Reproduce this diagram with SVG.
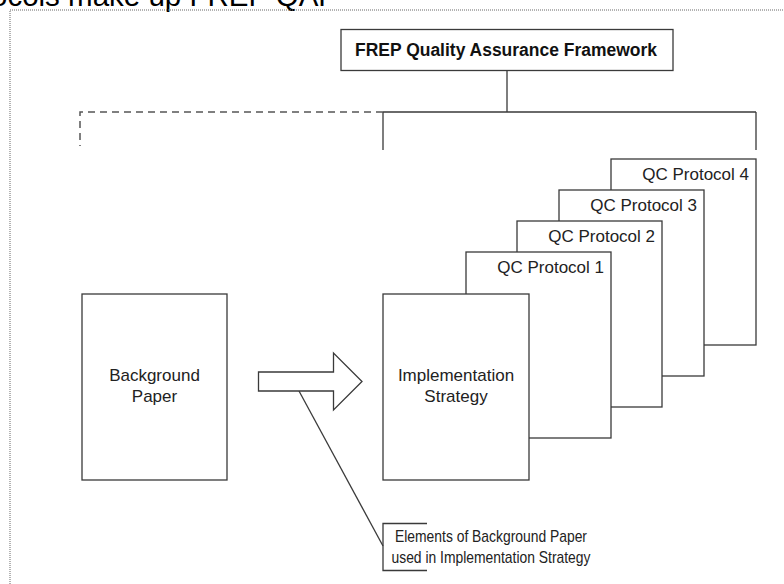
<svg xmlns="http://www.w3.org/2000/svg" width="784" height="584" viewBox="0 0 784 584">
  <style>
    .box { fill: #ffffff; stroke: #3a3a3a; stroke-width: 1.3; }
    .ln { fill: none; stroke: #3a3a3a; stroke-width: 1.3; }
    .dash { fill: none; stroke: #555555; stroke-width: 1.5; stroke-dasharray: 7 5; }
    .lbl { font-family: "Liberation Sans", Arial, sans-serif; font-size: 17px; fill: #222222; }
    .qc { text-anchor: end; }
    .mid { text-anchor: middle; }
  </style>
  <rect width="784" height="584" fill="#ffffff"/>

  <!-- caption, clipped by the page top -->
  <text x="-9" y="6" font-family="'Liberation Sans', Arial, sans-serif" font-size="29.5" fill="#000000">ocols make up FREP QAF</text>

  <!-- dotted frame -->
  <path d="M10 590 V10 H790" fill="none" stroke="#666666" stroke-width="1" stroke-dasharray="1 1"/>

  <g id="connectors">
    <path class="ln" d="M507 71 V112 M383 112 H756 M383 112 V150 M756 112 V150"/>
    <path class="dash" d="M383 112 H80 V146"/>
    <!-- callout leader -->
    <path class="ln" d="M299 391 L383 546" stroke-width="1"/>
    <path class="ln" d="M427 523.5 H383 V570.5 H427" stroke-width="1.2"/>
  </g>

  <g id="frep">
    <rect class="box" x="341" y="29.5" width="332" height="41"/>
    <text x="506" y="55.5" class="mid" font-family="'Liberation Sans', Arial, sans-serif" font-size="17.5" font-weight="bold" fill="#111111" textLength="302" lengthAdjust="spacingAndGlyphs">FREP Quality Assurance Framework</text>
  </g>

  <g id="qc4">
    <rect class="box" x="611" y="159" width="145" height="186"/>
    <text class="lbl qc" x="749" y="180">QC Protocol 4</text>
  </g>
  <g id="qc3">
    <rect class="box" x="559" y="190" width="145" height="186"/>
    <text class="lbl qc" x="697" y="211">QC Protocol 3</text>
  </g>
  <g id="qc2">
    <rect class="box" x="517" y="221" width="145" height="186"/>
    <text class="lbl qc" x="655" y="242">QC Protocol 2</text>
  </g>
  <g id="qc1">
    <rect class="box" x="466" y="252" width="145" height="186"/>
    <text class="lbl qc" x="604" y="273">QC Protocol 1</text>
  </g>

  <g id="implementation">
    <rect class="box" x="383" y="294" width="146" height="186"/>
    <text class="lbl mid" x="456" y="381">Implementation</text>
    <text class="lbl mid" x="456" y="402">Strategy</text>
  </g>

  <g id="background">
    <rect class="box" x="82" y="294" width="145" height="186"/>
    <text class="lbl mid" x="154.5" y="381">Background</text>
    <text class="lbl mid" x="154.5" y="402">Paper</text>
  </g>

  <g id="flow-arrow">
    <path class="box" stroke-width="1.1" d="M258.5 372 H333.5 V353 L362 381.5 L333.5 410 V391 H258.5 Z"/>
  </g>

  <g id="callout">
    <text class="lbl mid" x="491" y="541.5" font-size="17" textLength="192" lengthAdjust="spacingAndGlyphs">Elements of Background Paper</text>
    <text class="lbl mid" x="491" y="562.5" font-size="17" textLength="199" lengthAdjust="spacingAndGlyphs">used in Implementation Strategy</text>
  </g>
</svg>
